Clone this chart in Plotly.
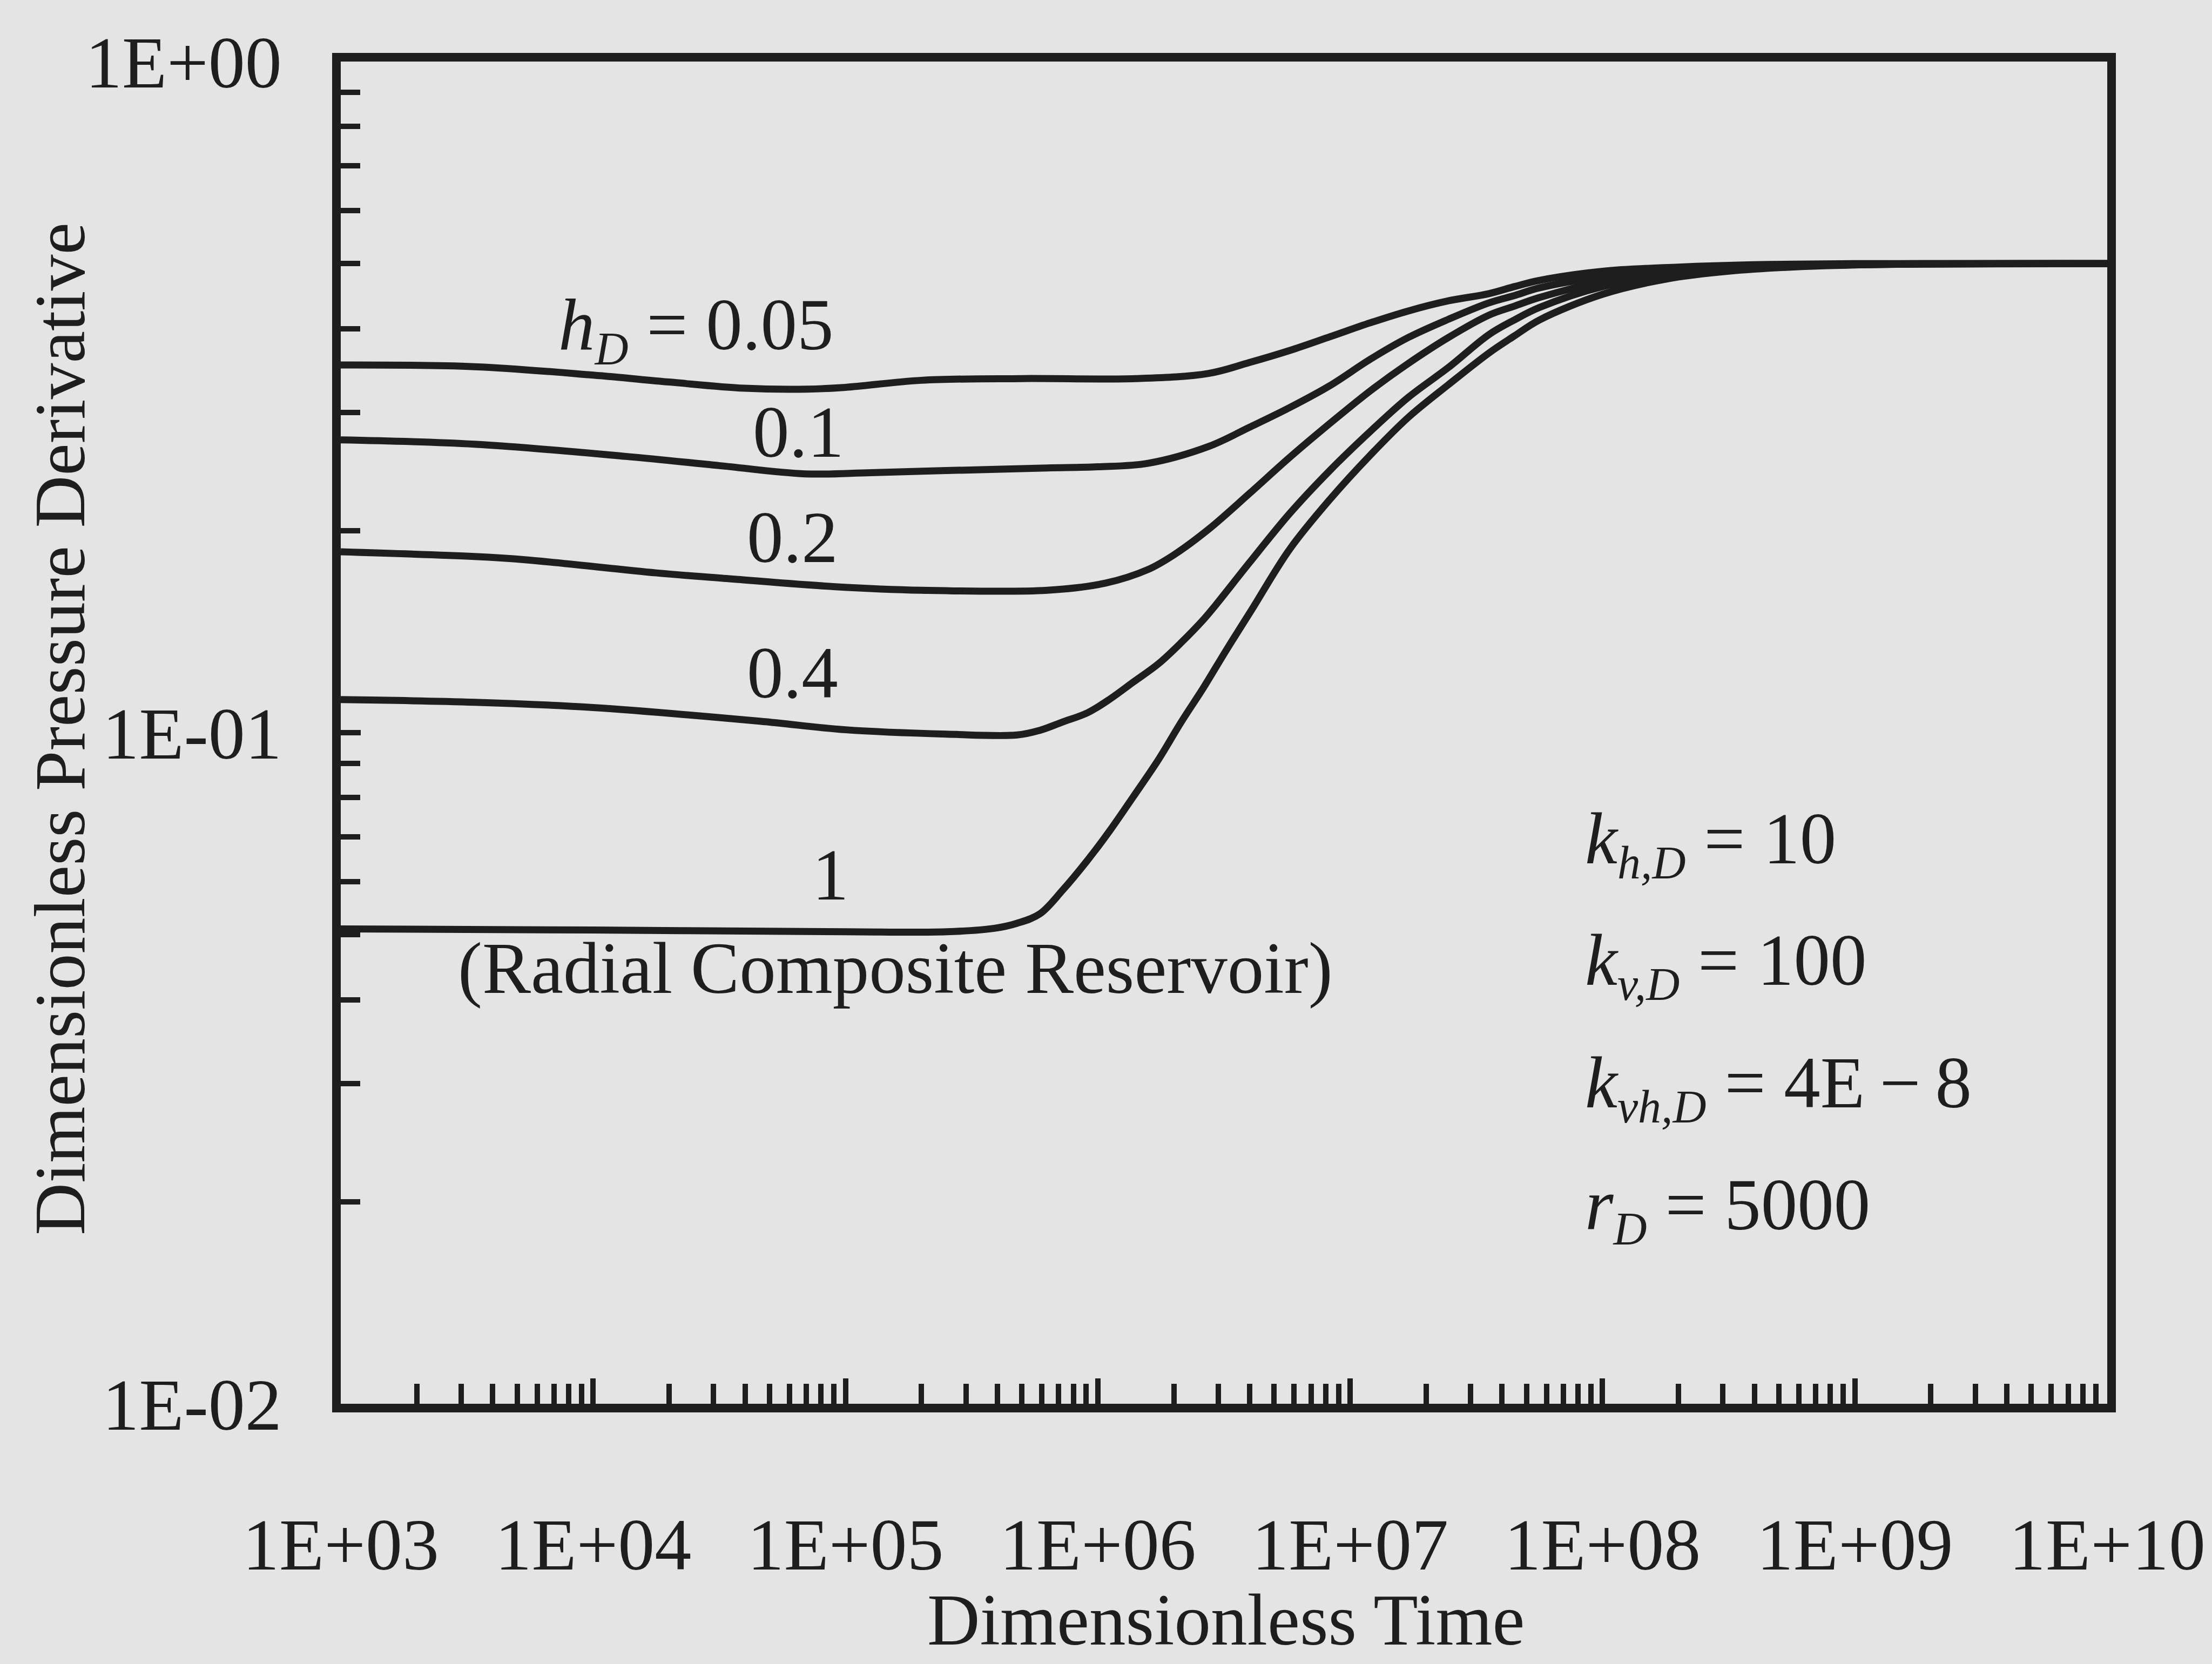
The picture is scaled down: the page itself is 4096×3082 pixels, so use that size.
import plotly.graph_objects as go

# ---- data (dimensionless time, pressure derivative) ----
t_hd005 = [1e3, 3.39e3, 1e4, 2e4, 3.98e4, 7.08e4, 1e5, 2e5, 5.01e5, 1.41e6, 2.75e6, 3.98e6,
           5.75e6, 8.32e6, 1.2e7, 1.7e7, 2.45e7, 3.55e7, 4.47e7, 5.62e7, 1e8, 2e8, 3.98e8, 1e9, 1e10]
p_hd005 = [0.353, 0.351, 0.341, 0.333, 0.326, 0.325, 0.327, 0.335, 0.337, 0.337, 0.343, 0.356,
           0.371, 0.389, 0.408, 0.425, 0.440, 0.451, 0.462, 0.472, 0.487, 0.494, 0.498, 0.500, 0.500]

t_hd01 = [1e3, 3.39e3, 1.35e4, 3.16e4, 6.92e4, 1.26e5, 2.75e5, 6.31e5, 1e6, 1.58e6, 2.75e6, 3.98e6,
          5.75e6, 8.32e6, 1.2e7, 1.7e7, 2.45e7, 3.55e7, 4.47e7, 5.62e7, 1e8, 2e8, 3.98e8, 1e9, 1e10]
p_hd01 = [0.273, 0.269, 0.258, 0.250, 0.243, 0.244, 0.246, 0.248, 0.249, 0.252, 0.267, 0.285,
          0.305, 0.329, 0.360, 0.388, 0.413, 0.437, 0.448, 0.460, 0.478, 0.490, 0.496, 0.499, 0.500]

t_hd02 = [1e3, 3.39e3, 5.37e3, 1.78e4, 3.16e4, 9.12e4, 2e5, 6.31e5, 1.07e6, 1.58e6, 2e6, 2.75e6,
          3.98e6, 5.75e6, 8.32e6, 1.2e7, 1.7e7, 2.45e7, 3.55e7, 4.47e7, 5.62e7, 1e8, 2e8, 3.98e8, 1e9, 1e10]
p_hd02 = [0.186, 0.183, 0.181, 0.173, 0.170, 0.165, 0.163, 0.163, 0.167, 0.175, 0.184, 0.201,
          0.227, 0.257, 0.289, 0.323, 0.355, 0.388, 0.419, 0.432, 0.445, 0.470, 0.486, 0.494, 0.499, 0.500]

t_hd04 = [1e3, 3.39e3, 1e4, 4.57e4, 1e5, 2.51e5, 4.79e5, 5.89e5, 7.24e5, 9.12e5, 1.12e6, 1.38e6,
          1.74e6, 2.14e6, 2.63e6, 2.93e6, 3.98e6, 5.75e6, 8.32e6, 1.2e7, 1.7e7, 2.45e7, 3.55e7,
          4.47e7, 5.62e7, 1e8, 2e8, 3.98e8, 1e9, 1e10]
p_hd04 = [0.112, 0.111, 0.109, 0.104, 0.101, 0.0995, 0.0992, 0.1008, 0.1037, 0.1071, 0.1123, 0.1189,
          0.1267, 0.1362, 0.1476, 0.1549, 0.179, 0.212, 0.246, 0.281, 0.316, 0.350, 0.392,
          0.412, 0.430, 0.462, 0.482, 0.492, 0.498, 0.500]

t_hd1 = [1e3, 1e4, 1e5, 2.51e5, 3.89e5, 4.79e5, 5.89e5, 7.24e5, 9.12e5, 1.12e6, 1.38e6, 1.74e6,
         2.14e6, 2.63e6, 3.24e6, 4.07e6, 5.75e6, 8.32e6, 1.2e7, 1.7e7, 2.45e7, 3.55e7, 4.47e7,
         5.62e7, 1e8, 1.78e8, 3.16e8, 6.31e8, 1.58e9, 1e10]
p_hd1 = [0.0510, 0.0508, 0.0505, 0.0505, 0.0511, 0.0520, 0.0537, 0.0582, 0.0646, 0.0716, 0.0802,
         0.0912, 0.1037, 0.1169, 0.1330, 0.1524, 0.1875, 0.2227, 0.259, 0.295, 0.330, 0.368, 0.390,
         0.412, 0.450, 0.474, 0.487, 0.495, 0.499, 0.500]

curve_names = ["hD = 0.05", "hD = 0.1", "hD = 0.2", "hD = 0.4", "hD = 1"]

x_tick_vals = [1e3, 1e4, 1e5, 1e6, 1e7, 1e8, 1e9, 1e10]
x_tick_text = ["1E+03", "1E+04", "1E+05", "1E+06", "1E+07", "1E+08", "1E+09", "1E+10"]
y_tick_vals = [0.01, 0.1, 1.0]
y_tick_text = ["1E-02", "1E-01", "1E+00"]
x_minor_vals = [m * 10.0 ** e for e in range(3, 10) for m in range(2, 10)]
y_minor_vals = [m * 10.0 ** e for e in (-2, -1) for m in range(2, 10)]

# ---- styling ----
INK = "#1e1e1e"
BG = "#e4e4e4"
FONT = "Liberation Serif"
W, H = 4096, 3082
ML, MR, MT, MB = 631, 190, 114, 482
PW, PH = W - ML - MR, H - MT - MB


def px(x, y):
    """page pixel -> paper fraction"""
    return (x - ML) / PW, (H - MB - y) / PH


def sub(s):
    return '<sub><span style="font-size:86px"><i>' + s + '</i></span></sub>'


fig = go.Figure()
series = [(t_hd005, p_hd005), (t_hd01, p_hd01), (t_hd02, p_hd02), (t_hd04, p_hd04), (t_hd1, p_hd1)]
for (t, p), nm in zip(series, curve_names):
    fig.add_trace(go.Scatter(x=t, y=p, mode="lines", name=nm, showlegend=False, hoverinfo="skip",
                             line=dict(color=INK, width=13, shape="spline", smoothing=1.0)))

fig.update_layout(
    width=W, height=H,
    margin=dict(l=ML, r=MR, t=MT, b=MB, pad=0),
    paper_bgcolor=BG, plot_bgcolor=BG,
    showlegend=False,
    font=dict(family=FONT, color=INK, size=135),
)

fig.update_xaxes(
    type="log", range=[3, 10], showgrid=False, zeroline=False,
    showline=True, mirror=True, linewidth=16, linecolor=INK,
    ticks="inside", ticklen=47, tickwidth=10, tickcolor=INK,
    tickmode="array", tickvals=x_tick_vals, ticktext=x_tick_text,
    tickfont=dict(family=FONT, size=136, color=INK), ticklabelstandoff=128,
    minor=dict(tickmode="array", tickvals=x_minor_vals, ticks="inside", ticklen=37,
               tickwidth=10, tickcolor=INK, showgrid=False),
)
fig.update_yaxes(
    type="log", range=[-2, 0], showgrid=False, zeroline=False,
    showline=True, mirror=True, linewidth=16, linecolor=INK,
    ticks="inside", ticklen=37, tickwidth=10, tickcolor=INK,
    tickmode="array", tickvals=y_tick_vals, ticktext=y_tick_text,
    tickfont=dict(family=FONT, size=136, color=INK), ticklabelstandoff=66,
    minor=dict(tickmode="array", tickvals=y_minor_vals, ticks="inside", ticklen=36,
               tickwidth=10, tickcolor=INK, showgrid=False),
)

labels = [
    ("<i>h</i>" + sub("D") + " = 0.05", 1547, 610, "right", "middle", 0),
    ("0.1", 1480, 800, "center", "middle", 0),
    ("0.2", 1469, 995, "center", "middle", 0),
    ("0.4", 1469, 1246, "center", "middle", 0),
    ("1", 1539, 1621, "center", "middle", 0),
    ("(Radial Composite Reservoir)", 1659, 1794, "center", "middle", 0),
    ("<i>k</i>" + sub("h,D") + " = 10", 2936, 1562, "left", "middle", 0),
    ("<i>k</i>" + sub("v,D") + " = 100", 2936, 1787, "left", "middle", 0),
    ("<i>k</i>" + sub("vh,D") + " = 4E\u2009\u2212\u20098", 2936, 2014, "left", "middle", 0),
    ("<i>r</i>" + sub("D") + " = 5000", 2936, 2240, "left", "middle", 0),
    ("Dimensionless Time", 2272, 3000, "center", "middle", 0),
    ("Dimensionless Pressure Derivative", 110, 1350, "center", "middle", -90),
]
for text, X, Y, xa, ya, ang in labels:
    xp, yp = px(X, Y)
    fig.add_annotation(text=text, x=xp, y=yp, xref="paper", yref="paper", showarrow=False,
                       xanchor=xa, yanchor=ya, textangle=ang,
                       font=dict(family=FONT, size=135 if ang == 0 else 134, color=INK))

fig.write_html("out.html")
